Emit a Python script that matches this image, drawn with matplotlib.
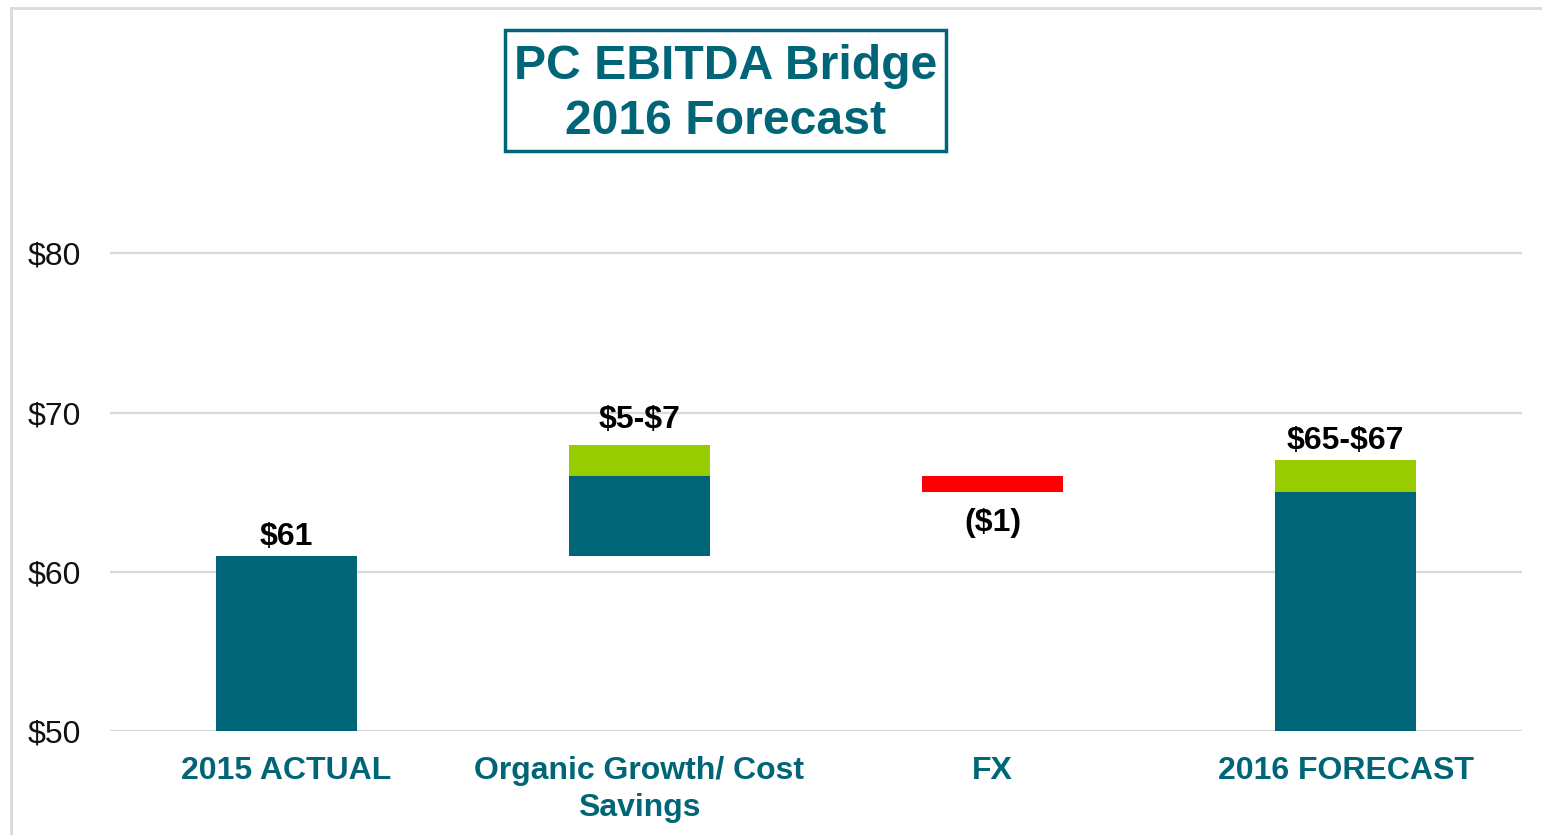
import matplotlib
matplotlib.use("Agg")
import matplotlib.pyplot as plt
from matplotlib.patches import Rectangle
from matplotlib.lines import Line2D

# ---- data ----
categories = ["2015 ACTUAL", "Organic Growth/ Cost\nSavings", "FX", "2016 FORECAST"]
actual_2015 = 61
organic_low, organic_high = 5, 7
fx_impact = -1
forecast_low, forecast_high = 65, 67
value_labels = ["$61", "$5-$7", "($1)", "$65-$67"]
y_ticks = [50, 60, 70, 80]
y_tick_labels = ["$50", "$60", "$70", "$80"]
y_min = 50

TEAL = "#006677"
GREEN = "#99CC00"
RED = "#FF0000"
GRID = "#D9D9D9"

plt.rcParams["font.family"] = ["Liberation Sans", "DejaVu Sans"]
plt.rcParams["text.parse_math"] = False

fig = plt.figure(figsize=(15.42, 8.35), dpi=100)
ax = fig.add_axes([110/1542, 1-731.3/835, (1522-110)/1542, (731.3-94)/835])

x = list(range(len(categories)))
w = 0.40

# teal segments
teal_bottom = [y_min, actual_2015, 0, y_min]
teal_height = [actual_2015 - y_min, organic_low, 0, forecast_low - y_min]
# green segments (range uncertainty)
green_bottom = [0, actual_2015 + organic_low, 0, forecast_low]
green_height = [0, organic_high - organic_low, 0, forecast_high - forecast_low]
# red segment (FX)
fx_top = actual_2015 + organic_low
red_bottom = [0, 0, fx_top + fx_impact, 0]
red_height = [0, 0, -fx_impact, 0]

ax.bar(x, teal_height, w, bottom=teal_bottom, color=TEAL, zorder=3)
ax.bar(x, green_height, w, bottom=green_bottom, color=GREEN, zorder=3)
ax.bar(x, red_height, w, bottom=red_bottom, color=RED, zorder=3)

# value labels
tops = [actual_2015, actual_2015 + organic_high, None, forecast_high]
gaps = [0.25, 0.6, None, 0.25]
for i, lbl in enumerate(value_labels):
    if i == 2:
        ax.text(x[i], fx_top + fx_impact - 1.0, lbl, ha="center", va="top",
                fontsize=23, fontweight="bold", color="black", zorder=4)
    else:
        ax.text(x[i], tops[i] + gaps[i], lbl, ha="center", va="bottom",
                fontsize=23, fontweight="bold", color="black", zorder=4)

ax.set_xlim(-0.5, len(categories) - 0.5)
ax.set_ylim(y_min, 90)
ax.set_yticks(y_ticks)
ax.set_yticklabels(y_tick_labels, fontsize=23, color="#111111")
ax.set_xticks(x)
ax.set_xticklabels(categories, fontsize=23, fontweight="bold", color=TEAL,
                   linespacing=1.3)
ax.tick_params(axis="both", length=0)
ax.tick_params(axis="y", pad=21)
ax.tick_params(axis="x", pad=18)
ax.yaxis.grid(True, color=GRID, linewidth=1.6, zorder=0)
ax.set_axisbelow(True)
for s in ax.spines.values():
    s.set_visible(False)

# title box
fig.text(725.5/1542, 1-94/835, "PC EBITDA Bridge\n2016 Forecast", ha="center", va="center",
         fontsize=34.7, fontweight="bold", color=TEAL, linespacing=1.28)
fig.patches.append(Rectangle((505/1542, 1-151/835), (946-505)/1542, (151-30)/835,
                             transform=fig.transFigure, fill=False, edgecolor=TEAL,
                             linewidth=2.5))

# outer light border (left and top)
fig.lines.append(Line2D([11/1542, 11/1542], [0, 1-7.5/835], transform=fig.transFigure,
                        color=GRID, linewidth=2))
fig.lines.append(Line2D([11/1542, 1], [1-7.5/835, 1-7.5/835], transform=fig.transFigure,
                        color=GRID, linewidth=2))

fig.savefig("out.png", dpi=100, facecolor="white")
